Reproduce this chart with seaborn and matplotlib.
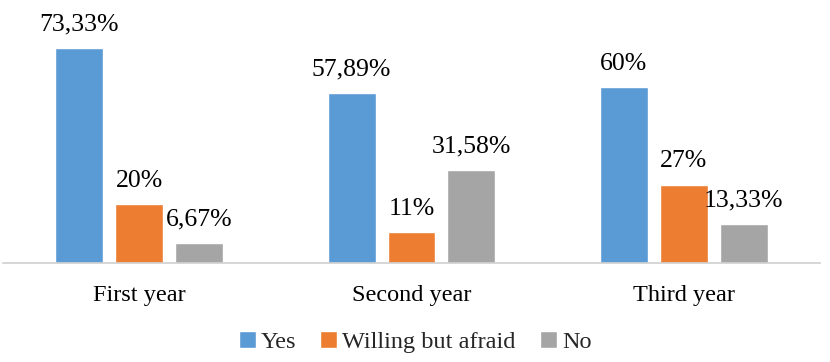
import numpy as np
import pandas as pd
import matplotlib
matplotlib.use("Agg")
import matplotlib.pyplot as plt
import seaborn as sns

years = ["First year", "Second year", "Third year"]
answers = ["Yes", "Willing but afraid", "No"]
yes_vals = [73.33, 57.89, 60.0]
afraid_vals = [20.0, 10.53, 26.67]
no_vals = [6.67, 31.58, 13.33]
yes_labels = ["73,33%", "57,89%", "60%"]
afraid_labels = ["20%", "11%", "27%"]
no_labels = ["6,67%", "31,58%", "13,33%"]

colors = ["#5B9BD5", "#ED7D31", "#A5A5A5"]

rows = []
for vals, labs, ans in [(yes_vals, yes_labels, answers[0]),
                        (afraid_vals, afraid_labels, answers[1]),
                        (no_vals, no_labels, answers[2])]:
    for y, v, l in zip(years, vals, labs):
        rows.append({"year": y, "answer": ans, "value": v, "label": l})
df = pd.DataFrame(rows)

sns.set_theme(style="white")
plt.rcParams["font.family"] = ["Liberation Serif", "DejaVu Serif"]

fig = plt.figure(figsize=(8.3, 3.62), dpi=100)
ax = fig.add_axes([0.0036, 0.2735, 0.9844, 0.7265])

sns.barplot(data=df, x="year", y="value", hue="answer", hue_order=answers,
            palette=colors, width=0.66, gap=0.2, saturation=1, ax=ax,
            legend=True)

for container, ans in zip(ax.containers, answers):
    sub = df[df["answer"] == ans]
    for bar, lab in zip(container, sub["label"]):
        ax.annotate(lab, (bar.get_x() + bar.get_width() / 2, bar.get_height()),
                    xytext=(0, 9), textcoords="offset points",
                    ha="center", va="bottom", fontsize=18.5, color="black")

ax.set_ylim(0, 89.7)
ax.set_xlim(-0.5, 2.5)
ax.set_yticks([])
ax.set_xlabel("")
ax.set_ylabel("")
for s in ["top", "right", "left"]:
    ax.spines[s].set_visible(False)
ax.spines["bottom"].set_color("#D0D0D0")
ax.spines["bottom"].set_linewidth(1.2)
ax.tick_params(axis="x", labelsize=17.5, length=0, pad=16, colors="black")

handles, labels = ax.get_legend_handles_labels()
ax.get_legend().remove()
fig.legend(handles, labels, loc="center", bbox_to_anchor=(0.5, 0.055),
           ncol=3, frameon=False, fontsize=17.5, handlelength=0.7,
           handleheight=0.7, handletextpad=0.2, columnspacing=1.0)

fig.savefig("out.png", dpi=100)
